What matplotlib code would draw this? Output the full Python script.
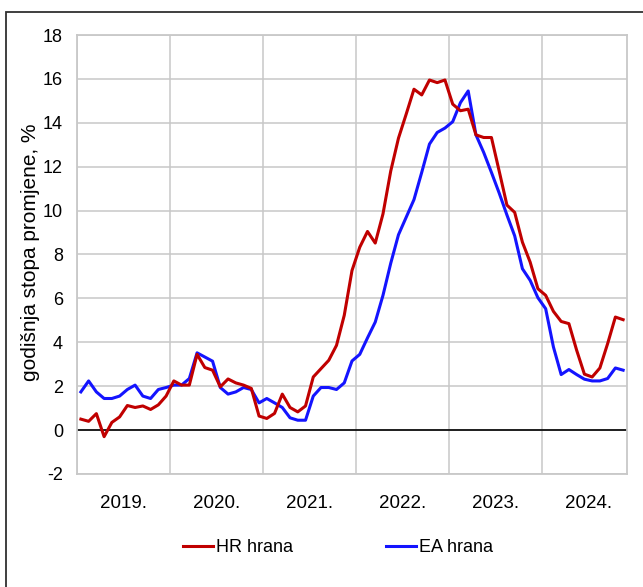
import numpy as np
import matplotlib
matplotlib.use('Agg')
import matplotlib.pyplot as plt
from matplotlib.patches import Rectangle

#-------------------------------------------------------------------------------
# data: monthly, Jan 2019 - Nov 2024
#-------------------------------------------------------------------------------
years = ['2019.', '2020.', '2021.', '2022.', '2023.', '2024.']

hr_hrana = [0.5, 0.4, 0.75, -0.3, 0.35, 0.6, 1.12, 1.03, 1.1, 0.94, 1.15, 1.55,
            2.24, 2.05, 2.05, 3.45, 2.85, 2.73, 1.97, 2.33, 2.15, 2.05, 1.9, 0.64,
            0.53, 0.76, 1.64, 1.03, 0.83, 1.1, 2.42, 2.8, 3.18, 3.86, 5.23, 7.27,
            8.33, 9.05, 8.52, 9.85, 11.8, 13.3, 14.4, 15.53, 15.27, 15.95, 15.83, 15.95,
            14.85, 14.55, 14.62, 13.45, 13.33, 13.33, 11.8, 10.25, 9.92, 8.56, 7.65, 6.44,
            6.14, 5.41, 4.95, 4.85, 3.64, 2.55, 2.42, 2.83, 3.94, 5.15, 5.03]

ea_hrana = [1.74, 2.24, 1.74, 1.44, 1.44, 1.55, 1.85, 2.05, 1.55, 1.44, 1.85, 1.94,
            2.05, 2.05, 2.35, 3.52, 3.33, 3.14, 1.94, 1.64, 1.74, 1.94, 1.85, 1.24,
            1.44, 1.24, 1.03, 0.56, 0.45, 0.45, 1.55, 1.94, 1.94, 1.85, 2.15, 3.15,
            3.45, 4.2, 4.92, 6.14, 7.6, 8.9, 9.7, 10.5, 11.74, 13.03, 13.56, 13.76,
            14.05, 14.92, 15.45, 13.45, 12.65, 11.74, 10.8, 9.8, 8.85, 7.35, 6.82, 6.03,
            5.53, 3.79, 2.53, 2.76, 2.53, 2.32, 2.24, 2.24, 2.35, 2.83, 2.73]

#-------------------------------------------------------------------------------
plt.rcParams['font.family'] = ['Liberation Sans', 'DejaVu Sans']
plt.rcParams['axes.unicode_minus'] = False

fig = plt.figure(figsize=(6.43, 5.87), dpi=100)
ax = fig.add_axes([77/643, 1-474/587, 550/643, 439/587])

x = np.arange(len(hr_hrana))
ax.plot(x, hr_hrana, color='#C00000', lw=2.2, label='HR hrana', zorder=4)
ax.plot(x, ea_hrana, color='#1414FF', lw=2.2, label='EA hrana', zorder=3)
ax.axhline(0, color='black', lw=1.2, zorder=2)

ax.set_xlim(-0.5, len(x) - 0.5)
ax.set_ylim(-2, 18)
ax.set_yticks(np.arange(-2, 19, 2))

# year boundaries as major ticks (grid), year names as minor ticks
ax.set_xticks(np.arange(-0.5, len(x), 12))
ax.set_xticklabels([])
ax.set_xticks(np.arange(5.5, len(x), 12), minor=True)
ax.set_xticklabels(years, minor=True)

ax.grid(True, which='major', color='#c8c8c8', lw=1.1, zorder=0)
ax.tick_params(axis='both', which='both', length=0, labelsize=13.5)
ax.tick_params(axis='y', pad=10, labelsize=13)
ax.tick_params(axis='x', which='minor', pad=15)
for sp in ax.spines.values():
    sp.set_color('#c8c8c8')
    sp.set_linewidth(1.3)

ax.set_ylabel('godišnja stopa promjene, %', fontsize=15)
ax.yaxis.set_label_coords(-0.067, 0.505)

fig.legend(loc='center', bbox_to_anchor=(338/643, 1-548/587), ncol=2,
           frameon=False, fontsize=13, handlelength=1.65, handletextpad=0.15,
           columnspacing=5.2)

# outer frame (only left and top edges inside the picture)
fig.patches.append(Rectangle((6/643, -0.5), 3.0, 1.5 - 11.5/587,
                             transform=fig.transFigure, fill=False,
                             edgecolor='#303030', lw=1.3))

fig.savefig('out.png', dpi=100)
